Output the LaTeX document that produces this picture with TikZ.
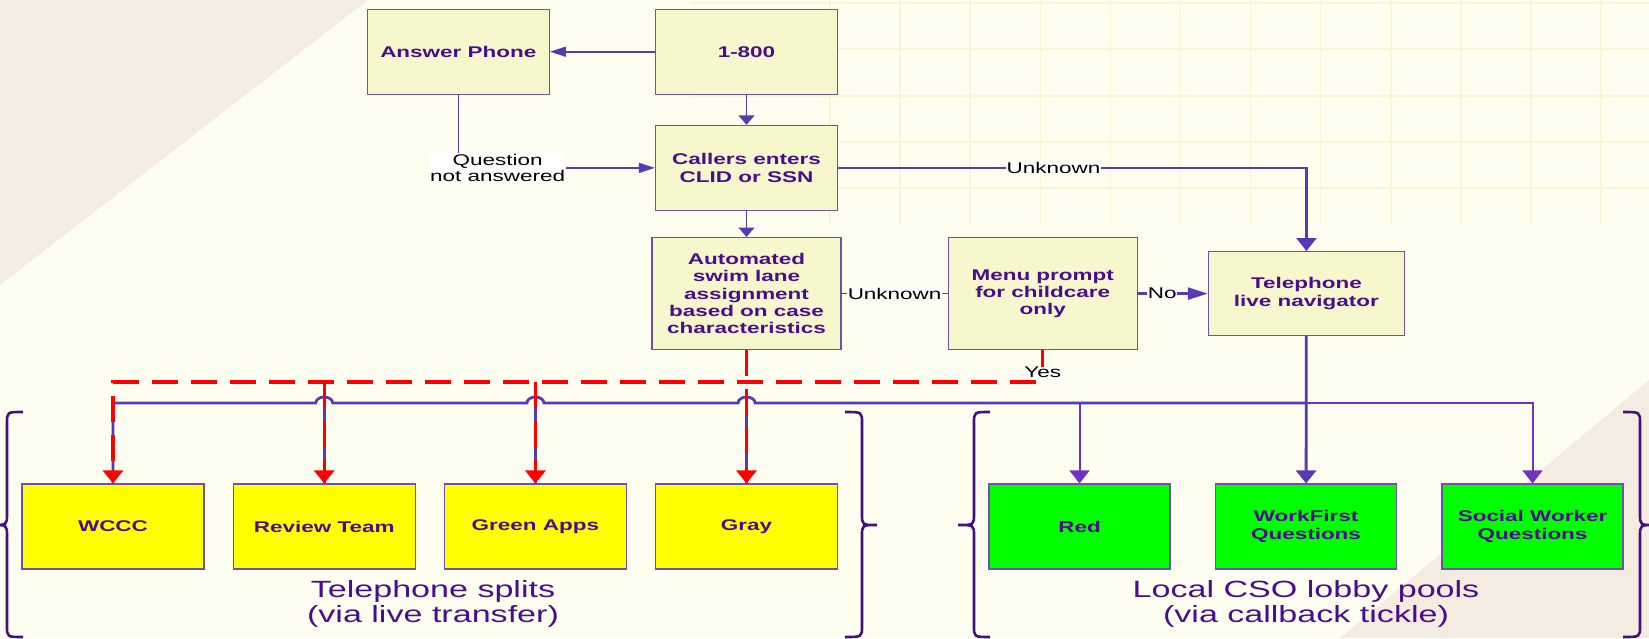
\documentclass[tikz,border=0pt]{standalone}
\usepackage{fontspec}
\setmainfont{Liberation Sans}[FakeStretch=1.45]
\usepackage{tikz}
\usetikzlibrary{arrows.meta,positioning,calc}
\definecolor{bgcream}{HTML}{FEFEF0}
\definecolor{bggrid}{HTML}{F7F5D6}
\definecolor{bgbeige}{HTML}{F5ECE1}
\definecolor{boxfill}{HTML}{F7F7CD}
\definecolor{boxedge}{HTML}{7050A8}
\definecolor{txtpurple}{HTML}{4A0E8C}
\definecolor{lnpurple}{HTML}{5A3AB4}
\definecolor{bracepurple}{HTML}{43107E}
\definecolor{splityellow}{HTML}{FFFF00}
\definecolor{poolgreen}{HTML}{00FF00}
\newcommand{\boxfont}{\fontsize{15.5pt}{17.3pt}\selectfont\bfseries}
\newcommand{\lblfont}{\fontsize{15.5pt}{16.7pt}\selectfont}
\newcommand{\grpfont}{\fontsize{23.5pt}{25.7pt}\selectfont}
% curly brace: arm x, spine x, tip x
\newcommand{\grpbrace}[3]{%
  \draw[brc] (#1,412) .. controls (#2,412) .. (#2,423) -- (#2,514)
    .. controls (#2,525) .. (#3,525) .. controls (#2,525) .. (#2,536)
    -- (#2,626) .. controls (#2,637) .. (#1,637);}
\tikzset{
  flow/.style={draw=boxedge,line width=1.2pt,fill=boxfill,minimum width=182pt,
    minimum height=85pt,inner sep=0pt,align=center,font=\boxfont,text=txtpurple},
  split/.style={flow,fill=splityellow},
  pool/.style={flow,fill=poolgreen,minimum width=181pt},
  lbl/.style={fill=white,inner sep=0.5pt,align=center,font=\lblfont,text=black},
  grp/.style={align=center,font=\grpfont,text=txtpurple},
  thinln/.style={draw=lnpurple,line width=1.6pt},
  thickln/.style={draw=lnpurple,line width=2.6pt},
  busln/.style={draw=lnpurple,line width=2.8pt},
  branchln/.style={draw=lnpurple!85!magenta,line width=2pt},
  reddash/.style={draw=red,line width=3.2pt,dash pattern=on 26pt off 13pt},
  brc/.style={draw=bracepurple,line width=2.6pt},
  varr/.style={-{Triangle[width=16pt,length=9.5pt]}},
  harr/.style={-{Triangle[width=10pt,length=16pt]}},
  vtip/.style={-{Triangle[width=20pt,length=13pt]}},
  htip/.style={-{Triangle[width=12pt,length=20pt]}},
}
\begin{document}
\begin{tikzpicture}[x=1pt,y=-1pt]
\useasboundingbox (0,0) rectangle (1649,638);
% backdrop
\fill[bgcream] (0,0) rectangle (1649,638);
\foreach \gx in {0,...,11}
  \draw[bggrid,line width=1.5pt] (830+70.1*\gx,0) -- (830+70.1*\gx,225);
\foreach \gy in {3,49,96,142,188}
  \draw[bggrid,line width=1.5pt] (690,\gy) -- (1649,\gy);
\fill[bgbeige] (0,0) -- (368,0) -- (0,285) -- cycle;
\fill[bgbeige] (1649,380) -- (1649,638) -- (1340,638) -- cycle;

% call intake
\node[flow] (tollfree) at (746.5,51.7) {1-800};
\node[flow,left=105pt of tollfree] (ans) {Answer Phone};
\node[flow,below=30pt of tollfree] (callid) {Callers enters\\CLID or SSN};
\node[flow,below=26pt of callid,minimum width=189pt,minimum height=112pt] (swim)
  {Automated\\swim lane\\assignment\\based on case\\characteristics};
\node[flow,right=106pt of swim,minimum width=189pt,minimum height=112pt] (menu)
  {Menu prompt\\for childcare\\only};
\node[flow,right=70pt of menu,minimum width=196pt,minimum height=84pt] (nav)
  {Telephone\\live navigator};

% destinations
\node[split] (wccc) at (113,526.5) {WCCC};
\node[split,right=28pt of wccc] (review) {Review Team};
\node[split,right=28pt of review] (greenapps) {Green Apps};
\node[split,right=28pt of greenapps] (gray) {Gray};
\node[pool] (red) at (1079.5,526.5) {Red};
\node[pool,right=44.3pt of red] (workfirst) {WorkFirst\\Questions};
\node[pool,right=44.3pt of workfirst] (social) {Social Worker\\Questions};
\node[grp] (splitscap) at (433,604) {Telephone splits\\(via live transfer)};
\node[grp] (poolscap) at (1306,604) {Local CSO lobby pools\\(via callback tickle)};

% upper connectors
\draw[thinln,harr] (tollfree) -- (ans);
\draw[thinln,varr] (tollfree) -- (callid);
\draw[thinln,harr] (ans) |- node[lbl,pos=0.6]{Question\\not answered} (callid);
\draw[thickln,vtip] (callid) -| node[lbl,pos=0.23]{Unknown} (nav);
\draw[thinln,varr] (callid) -- (swim);
\draw[thinln] (swim) -- node[lbl]{Unknown} (menu);
\draw[thickln,htip] (menu) -- node[lbl,pos=0.35]{No} (nav);

% purple bus
\coordinate (bus) at (0,403);
\coordinate (redbus) at (0,382);
\draw[busln,vtip] (nav) -- (workfirst);
\draw[branchln,vtip] (nav.south |- bus) -| (social);
\draw[branchln,vtip] (red.north |- bus) -- (red);
\draw[busln] (nav.south |- bus) -- ($(gray.north |- bus)+(8.5,0)$)
  arc[start angle=0,end angle=180,x radius=8.5pt,y radius=6pt]
  -- ($(greenapps.north |- bus)+(8.5,0)$)
  arc[start angle=0,end angle=180,x radius=8.5pt,y radius=6pt]
  -- ($(review.north |- bus)+(8.5,0)$)
  arc[start angle=0,end angle=180,x radius=8.5pt,y radius=6pt]
  -- (wccc.north |- bus) -- (wccc);
\foreach \s in {review,greenapps,gray}
  \draw[busln] (\s.north |- bus) -- (\s);

% red dashed transfers
\draw[reddash,vtip] (menu) -- node[lbl,pos=0.7]{Yes} (menu.south |- redbus) -| (wccc);
\foreach \s in {review,greenapps}
  \draw[reddash,vtip] (\s.north |- redbus) -- (\s);
\draw[reddash,vtip] (swim) -- (swim.south |- gray.north);

% group braces
\grpbrace{23}{7}{-8}
\grpbrace{845}{862}{877}
\grpbrace{990}{974}{958}
\grpbrace{1623}{1640}{1655}
\end{tikzpicture}
\end{document}
